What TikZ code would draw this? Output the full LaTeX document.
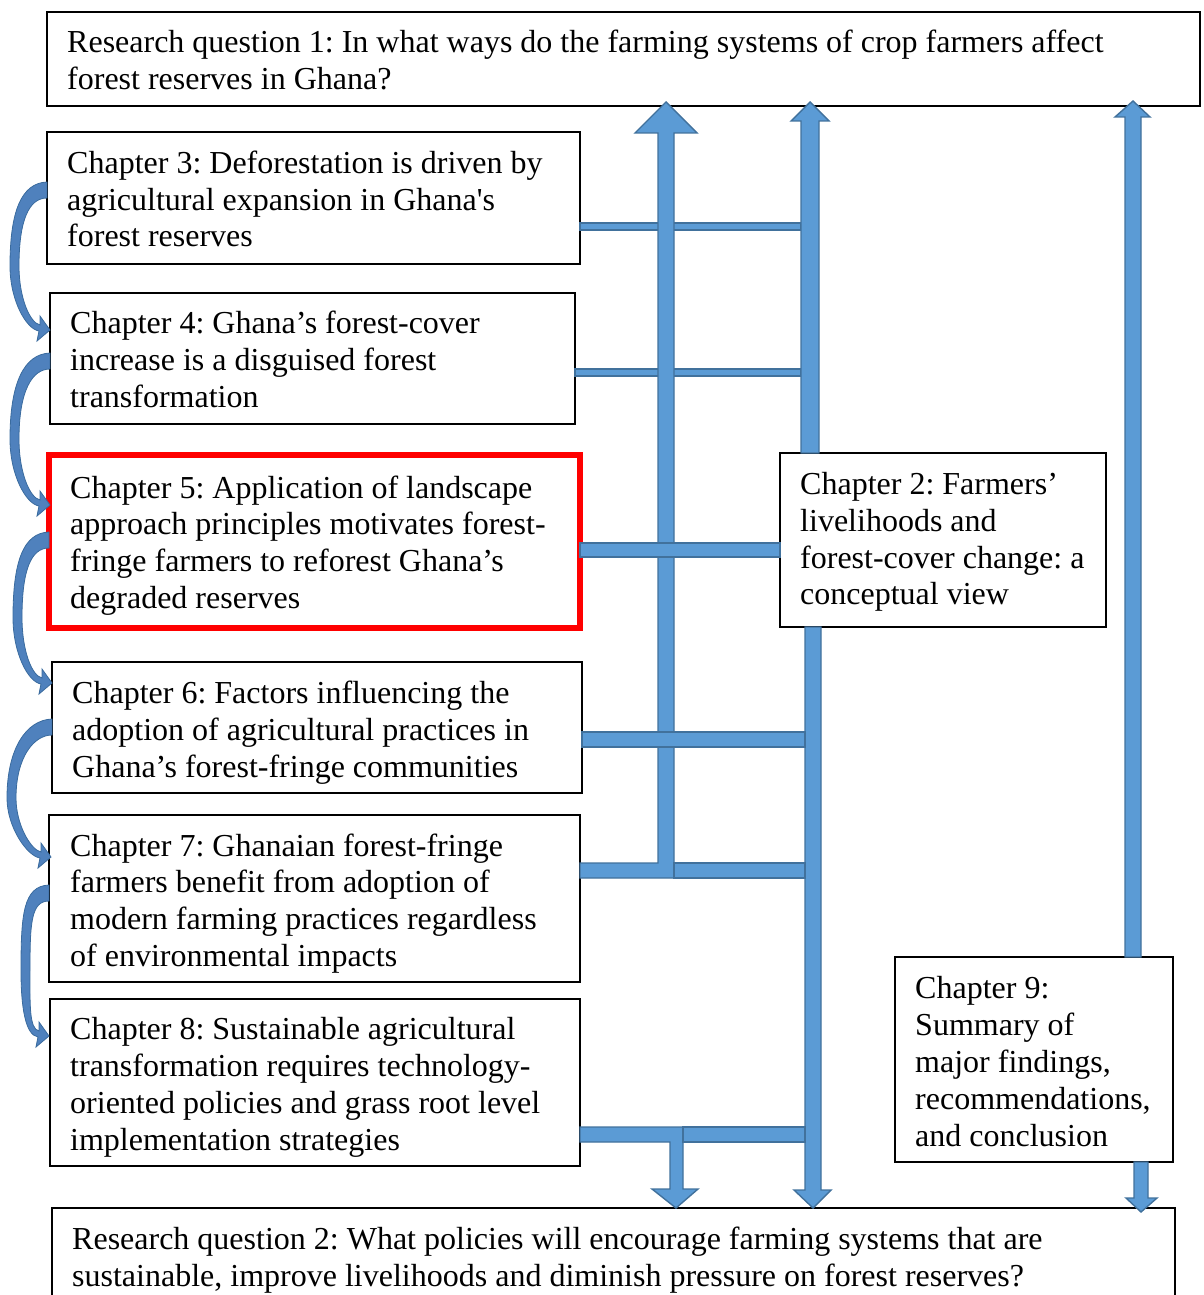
\documentclass[tikz,border=0pt]{standalone}
\usepackage{fontspec}
\setmainfont{Liberation Serif}[Ligatures=TeXOff]
\usetikzlibrary{calc}

\definecolor{flowfill}{HTML}{5B9BD5}
\definecolor{flowedge}{HTML}{41719C}
\definecolor{loopfill}{HTML}{4F81BD}
\definecolor{loopedge}{HTML}{3A6B9E}

\tikzset{
  box/.style={draw=black, line width=1.8pt, fill=white, rectangle,
    inner sep=0pt, outer sep=0pt, anchor=north west},
  keybox/.style={box, draw=red, line width=5.5pt},
  txt/.style={inner sep=0pt, align=left, anchor=west,
    font=\fontsize{32}{36.8}\selectfont\frenchspacing},
  flow/.style={fill=flowfill, draw=flowedge, line width=1.4pt, line join=miter},
  loopband/.style={fill=loopfill, draw=loopedge, line width=0.8pt},
}

% curved link down the left side: start x, start y, leftmost x, tip x, tip y
\newcommand{\loopconn}[5]{%
  \pgfmathsetmacro{\loopmid}{(#2+#5)/2+6}%
  \path[loopband] (#1,#2-8) .. controls (#1-26,#2-7) and (#3,#2+22) .. (#3,\loopmid)
    .. controls (#3,#5-30) and (#4-24,#5-1) .. (#4-11,#5+1)
    -- (#4-13,#5+11) -- (#4,#5) -- (#4-10,#5-14) -- (#4-10,#5-5)
    .. controls (#4-20,#5-7) and (#3+9,#5-32) .. (#3+9,\loopmid)
    .. controls (#3+9,#2+30) and (#1-18,#2+8) .. (#1,#2+8) -- cycle;}

\begin{document}
\begin{tikzpicture}[x=1pt, y=-1pt]
\useasboundingbox (0,0) rectangle (1203,1295);
\clip (0,0) rectangle (1203,1295);

% ---- boxes ----
\node[box, minimum width=1153pt, minimum height=94pt] (rq1) at (47,12) {};
\node[txt] (rq1t) at ([shift={(20,1)}]rq1.west)
  {Research question 1: In what ways do the farming systems of crop farmers affect\\forest reserves in Ghana?};

\node[box, minimum width=533pt, minimum height=132pt] (ch3) at (47,132) {};
\node[txt] (ch3t) at ([shift={(20,1)}]ch3.west)
  {Chapter 3: Deforestation is driven by\\agricultural expansion in Ghana's\\forest reserves};

\node[box, minimum width=525pt, minimum height=131pt] (ch4) at (50,293) {};
\node[txt] (ch4t) at ([shift={(20,1)}]ch4.west)
  {Chapter 4: Ghana’s forest-cover\\increase is a disguised forest\\transformation};

\node[keybox, minimum width=531pt, minimum height=173pt] (ch5) at (49,455) {};
\node[txt] (ch5t) at ([shift={(21,4)}]ch5.west)
  {Chapter 5: Application of landscape\\approach principles motivates forest-\\fringe farmers to reforest Ghana’s\\degraded reserves};

\node[box, minimum width=530pt, minimum height=131pt] (ch6) at (52,662) {};
\node[txt] (ch6t) at ([shift={(20,5)}]ch6.west)
  {Chapter 6: Factors influencing the\\adoption of agricultural practices in\\Ghana’s forest-fringe communities};

\node[box, minimum width=531pt, minimum height=167pt] (ch7) at (49,815) {};
\node[txt] (ch7t) at ([shift={(21,5)}]ch7.west)
  {Chapter 7: Ghanaian forest-fringe\\farmers benefit from adoption of\\modern farming practices regardless\\of environmental impacts};

\node[box, minimum width=530pt, minimum height=167pt] (ch8) at (50,999) {};
\node[txt] (ch8t) at ([shift={(20,5)}]ch8.west)
  {Chapter 8: Sustainable agricultural\\transformation requires technology-\\oriented policies and grass root level\\implementation strategies};

\node[box, minimum width=326pt, minimum height=174pt] (ch2) at (780,453) {};
\node[txt] (ch2t) at ([shift={(20,2)}]ch2.west)
  {Chapter 2: Farmers’\\livelihoods and\\forest-cover change: a\\conceptual view};

\node[box, minimum width=278pt, minimum height=205pt] (ch9) at (895,957) {};
\node[txt] (ch9t) at ([shift={(20,2)}]ch9.west)
  {Chapter 9:\\Summary of\\major findings,\\recommendations,\\and conclusion};

\node[box, minimum width=1123pt, minimum height=97pt] (rq2) at (52,1208) {};
\node[txt] (rq2t) at ([shift={(20,4)}]rq2.west)
  {Research question 2: What policies will encourage farming systems that are\\sustainable, improve livelihoods and diminish pressure on forest reserves?};

% ---- thin links of chapters 3 and 4 ----
\path[flow] (ch3.east |- 0,223) rectangle (801,230);
\path[flow] (ch4.east |- 0,369) rectangle (801,376);

% ---- bent arrow from chapter 7 up to question 1 ----
\path[flow] (ch7.east |- 0,863) -- (658,863) -- (658,133) -- (635,133) -- (666,102)
  -- (697,133) -- (674,133) -- (674,878) -- (ch7.east |- 0,878) -- cycle;

% ---- chapter 2 up to question 1, and down to question 2 ----
\path[flow] (801,0 |- ch2.north) -- (801,121) -- (791,121) -- (810,102) -- (829,121)
  -- (819,121) -- (819,0 |- ch2.north) -- cycle;
\path[flow] (805,0 |- ch2.south) -- (805,1190) -- (794,1190) -- (813,1208) -- (831,1190)
  -- (821,1190) -- (821,0 |- ch2.south) -- cycle;

% ---- chapter 9 up to question 1, and down to question 2 ----
\path[flow] (1125,0 |- ch9.north) -- (1125,117) -- (1115,117) -- (1133,101) -- (1150,117)
  -- (1141,117) -- (1141,0 |- ch9.north) -- cycle;
\path[flow] (1134,0 |- ch9.south) -- (1134,1198) -- (1126,1198) -- (1141,1212) -- (1157,1198)
  -- (1148,1198) -- (1148,0 |- ch9.south) -- cycle;

% ---- bent arrow from chapter 8 down to question 2 ----
\path[flow] (ch8.east |- 0,1127) -- (683,1127) -- (683,1189) -- (698,1189) -- (676,1208)
  -- (652,1189) -- (670,1189) -- (670,1142) -- (ch8.east |- 0,1142) -- cycle;

% ---- wide links of chapters 5 to 8 ----
\path[flow] (ch5.east |- 0,543) rectangle (ch2.west |- 0,557);
\path[flow] (ch6.east |- 0,732) rectangle (805,747);
\path[flow] (674,863) rectangle (805,878);
\path[flow] (683,1127) rectangle (805,1142);

% ---- curved links between consecutive chapters ----
\loopconn{47}{190}{10}{50}{330}
\loopconn{50}{361}{10}{50}{505}
\loopconn{49}{540}{13}{52}{683}
\loopconn{52}{727}{7}{51}{857}
\loopconn{49}{893}{21}{49}{1036}
\end{tikzpicture}
\end{document}
